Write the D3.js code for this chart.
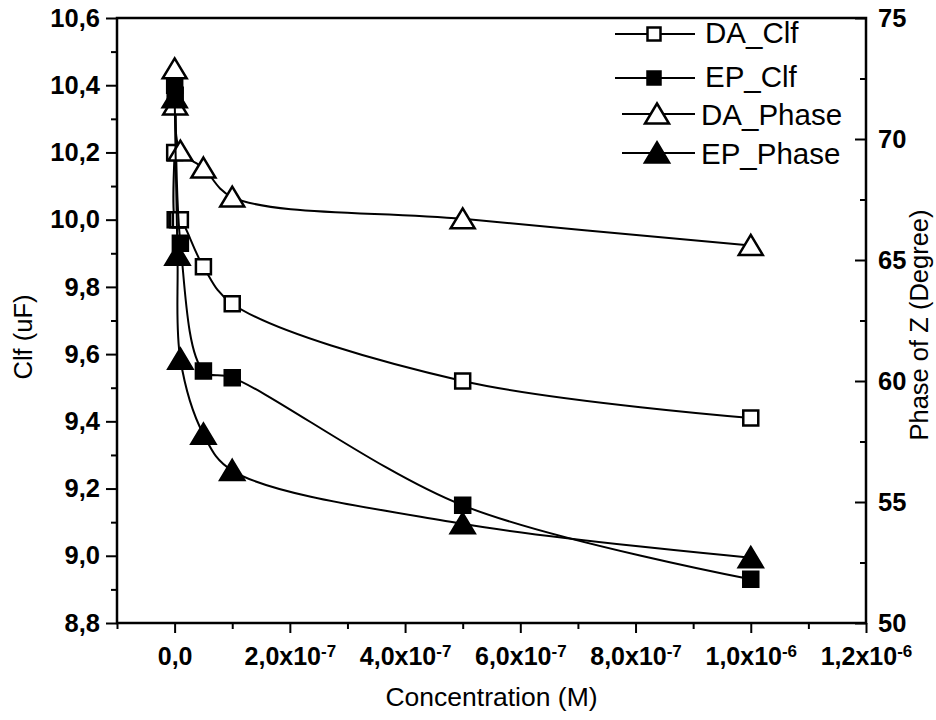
<!DOCTYPE html>
<html>
<head>
<meta charset="utf-8">
<script src="https://cdn.jsdelivr.net/npm/d3@7"></script>
<style>
  body { margin: 0; background: #fff; }
  svg { display: block; }
  text { font-family: "Liberation Sans", Arial, Helvetica, sans-serif; fill: #000; }
</style>
</head>
<body>
<svg id="chart" width="936" height="720"></svg>
<script>
// ---- data -------------------------------------------------------------
const seriesNames = ["DA_Clf", "EP_Clf", "DA_Phase", "EP_Phase"];

// concentration (M) and capacitance (uF) — left axis
const daClfConc = [1e-10, 1e-9, 5e-9, 1e-8, 5e-8, 1e-7, 5e-7, 1e-6];
const daClf     = [10.20, 10.00, 10.00, 10.00, 9.86, 9.75, 9.52, 9.41];
const epClfConc = [1e-10, 1e-9, 1e-8, 5e-8, 1e-7, 5e-7, 1e-6];
const epClf     = [10.40, 10.37, 9.93, 9.55, 9.53, 9.15, 8.93];

// concentration (M) and phase of Z (degree) — right axis
const daPhaseConc = [1e-10, 1e-9, 1e-8, 5e-8, 1e-7, 5e-7, 1e-6];
const daPhase     = [72.9, 71.4, 69.5, 68.8, 67.6, 66.7, 65.6];
const epPhaseConc = [1e-10, 5e-9, 1e-8, 5e-8, 1e-7, 5e-7, 1e-6];
const epPhase     = [71.7, 65.2, 60.9, 57.8, 56.3, 54.1, 52.7];

// axis ticks
const concTicks       = [0, 2e-7, 4e-7, 6e-7, 8e-7, 1e-6, 1.2e-6];
const concMinorTicks  = [-1e-7, 1e-7, 3e-7, 5e-7, 7e-7, 9e-7, 1.1e-6];
const clfTicks        = [8.8, 9.0, 9.2, 9.4, 9.6, 9.8, 10.0, 10.2, 10.4, 10.6];
const clfMinorTicks   = [8.9, 9.1, 9.3, 9.5, 9.7, 9.9, 10.1, 10.3, 10.5];
const phaseTicks      = [50, 55, 60, 65, 70, 75];
const phaseMinorTicks = [52.5, 57.5, 62.5, 67.5, 72.5];

// ---- layout -----------------------------------------------------------
const svg = d3.select("#chart");
const box = { left: 117, right: 866, top: 18, bottom: 623 };

const x = d3.scaleLinear().domain([-1e-7, 1.2e-6]).range([box.left, box.right]);
const yClf = d3.scaleLinear().domain([8.8, 10.6]).range([box.bottom, box.top]);
const yPhase = d3.scaleLinear().domain([50, 75]).range([box.bottom, box.top]);

const commaFmt = d => d3.format(".1f")(d).replace(".", ",");

// ---- axes -------------------------------------------------------------
function styleAxis(g, size) {
  g.select(".domain").remove();
  g.selectAll(".tick line").attr("stroke", "#000").attr("stroke-width", 2);
  g.selectAll(".tick text")
    .attr("font-size", size || 25.5).attr("font-weight", "bold").attr("fill", "#000");
}

// left (capacitance) — ticks outward
svg.append("g").attr("transform", `translate(${box.left},0)`)
  .call(d3.axisLeft(yClf).tickValues(clfMinorTicks).tickSize(6).tickFormat(""))
  .call(styleAxis);
svg.append("g").attr("transform", `translate(${box.left},0)`)
  .call(d3.axisLeft(yClf).tickValues(clfTicks).tickSize(11).tickPadding(6).tickFormat(commaFmt))
  .call(styleAxis);

// right (phase) — ticks point into the plot
svg.append("g").attr("transform", `translate(${box.right},0)`)
  .call(d3.axisRight(yPhase).tickValues(phaseMinorTicks).tickSize(-6).tickFormat(""))
  .call(styleAxis);
svg.append("g").attr("transform", `translate(${box.right},0)`)
  .call(d3.axisRight(yPhase).tickValues(phaseTicks).tickSize(-11).tickPadding(12).tickFormat(d3.format("d")))
  .call(styleAxis);

// bottom (concentration) — labels in a x10^n form with decimal commas
svg.append("g").attr("transform", `translate(0,${box.bottom})`)
  .call(d3.axisBottom(x).tickValues(concMinorTicks).tickSize(6).tickFormat(""))
  .call(styleAxis);
const xAxis = svg.append("g").attr("transform", `translate(0,${box.bottom})`)
  .call(d3.axisBottom(x).tickValues(concTicks).tickSize(10).tickPadding(14).tickFormat(""))
  .call(styleAxis, 25);

xAxis.selectAll(".tick text").each(function (d) {
  const t = d3.select(this);
  t.text(null);
  if (d === 0) { t.append("tspan").text("0,0"); return; }
  const e = Math.floor(Math.log10(d) + 1e-9);
  const m = (d / Math.pow(10, e)).toFixed(1).replace(".", ",");
  t.append("tspan").text(m + "x10");
  t.append("tspan").attr("font-size", 17).attr("dy", "-8").text(String(e));
});

// frame
svg.append("rect")
  .attr("x", box.left).attr("y", box.top)
  .attr("width", box.right - box.left).attr("height", box.bottom - box.top)
  .attr("fill", "none").attr("stroke", "#000").attr("stroke-width", 2.5);

// axis titles
svg.append("text")
  .attr("x", (box.left + box.right) / 2).attr("y", 706)
  .attr("text-anchor", "middle").attr("font-size", 26.5)
  .text("Concentration (M)");
svg.append("text")
  .attr("transform", "translate(32,337) rotate(-90)")
  .attr("text-anchor", "middle").attr("font-size", 25.5)
  .text("Clf (uF)");
svg.append("text")
  .attr("transform", "translate(928,325) rotate(-90)")
  .attr("text-anchor", "middle").attr("font-size", 25.5)
  .text("Phase of Z (Degree)");

// ---- markers ----------------------------------------------------------
const squarePath = s => `M${-s / 2},${-s / 2}H${s / 2}V${s / 2}H${-s / 2}Z`;
const trianglePath = () => "M0,-10.5L12,9.5L-12,9.5Z";

const series = [
  { name: seriesNames[0], conc: daClfConc, vals: daClf, y: yClf, shape: "square", filled: false },
  { name: seriesNames[1], conc: epClfConc, vals: epClf, y: yClf, shape: "square", filled: true },
  { name: seriesNames[2], conc: daPhaseConc, vals: daPhase, y: yPhase, shape: "triangle", filled: false },
  { name: seriesNames[3], conc: epPhaseConc, vals: epPhase, y: yPhase, shape: "triangle", filled: true }
];

function markerPath(s, size) {
  return s.shape === "square" ? squarePath(size) : trianglePath();
}

const plotArea = svg.append("g");
series.forEach(s => {
  const pts = s.conc.map((c, i) => [c, s.vals[i]]);
  const line = d3.line()
    .x(d => x(d[0])).y(d => s.y(d[1]))
    .curve(d3.curveCatmullRom.alpha(0.5));
  plotArea.append("path")
    .attr("d", line(pts))
    .attr("fill", "none").attr("stroke", "#000").attr("stroke-width", 2);
  plotArea.append("g").selectAll("path")
    .data(pts).join("path")
    .attr("transform", d => `translate(${x(d[0])},${s.y(d[1])})`)
    .attr("d", markerPath(s, 15))
    .attr("fill", s.filled ? "#000" : "#fff")
    .attr("stroke", "#000").attr("stroke-width", 2.5)
    .attr("stroke-linejoin", "miter");
});

// ---- legend -----------------------------------------------------------
const legendRows = [
  { lineX0: 615, markX: 654, textX: 705, y: 34, base: 43 },
  { lineX0: 615, markX: 654, textX: 705, y: 78, base: 87 },
  { lineX0: 622, markX: 657, textX: 701, y: 114, base: 125 },
  { lineX0: 622, markX: 657, textX: 701, y: 153, base: 164 }
];
const legend = svg.append("g");
series.forEach((s, i) => {
  const r = legendRows[i];
  legend.append("line")
    .attr("x1", r.lineX0).attr("x2", 695).attr("y1", r.y).attr("y2", r.y)
    .attr("stroke", "#000").attr("stroke-width", 2);
  legend.append("path")
    .attr("transform", `translate(${r.markX},${r.y})`)
    .attr("d", markerPath(s, 13))
    .attr("fill", s.filled ? "#000" : "#fff")
    .attr("stroke", "#000").attr("stroke-width", 2.5);
  legend.append("text")
    .attr("x", r.textX).attr("y", r.base)
    .attr("font-size", 29.5)
    .text(s.name);
});
</script>
</body>
</html>
